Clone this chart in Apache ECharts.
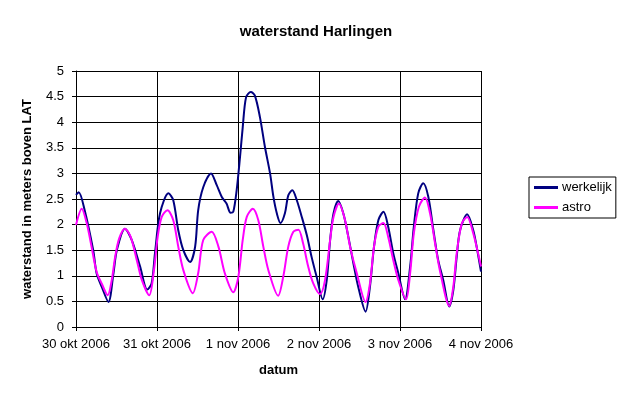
<!DOCTYPE html>
<html>
<head>
<meta charset="utf-8">
<script src="https://cdn.jsdelivr.net/npm/echarts@6/dist/echarts.min.js"></script>
<style>
  html, body { margin: 0; padding: 0; background: #fff; }
  #chart { width: 624px; height: 397px; }
</style>
</head>
<body>
<div id="chart"></div>
<script>
// hours since 30 okt 2006 00:00
let dayLabels = ['30 okt 2006', '31 okt 2006', '1 nov 2006', '2 nov 2006', '3 nov 2006', '4 nov 2006'];

let werkelijkHours = [0, 0.8, 2.5, 5.1, 6.1, 7.6, 9.6, 11.1, 12.1, 14.5, 16.5, 19.0, 21.1, 22.4, 23.4, 24.9,
    27.4, 28.8, 30.3, 31.8, 33.8, 35.3, 36.2, 37.7, 40.0, 41.7, 43.2, 44.6, 45.8, 46.6, 47.6, 48.6,
    49.4, 50.4, 51.8, 53.0, 54.5, 56.0, 57.5, 58.5, 59.5, 60.6, 61.9, 62.9, 64.1, 65.4, 66.9, 68.4,
    69.8, 71.3, 73.1, 74.3, 75.3, 76.3, 77.7, 79.2, 80.7, 82.2, 83.6, 85.8, 87.1, 88.3, 89.6, 91.1,
    92.5, 94.0, 95.5, 97.5, 99.0, 100.1, 101.4, 102.9, 104.4, 105.9, 107.3, 108.8, 110.6, 111.8,
    112.8, 113.8, 115.9, 117.7, 118.9, 120];
let werkelijkValues = [2.58, 2.63, 2.30, 1.50, 1.05, 0.79, 0.49, 1.05, 1.50, 1.92, 1.70, 1.18, 0.73, 0.85, 1.44, 2.22,
    2.61, 2.48, 1.89, 1.50, 1.27, 1.57, 2.28, 2.73, 3.00, 2.77, 2.54, 2.41, 2.23, 2.25, 2.67, 3.32,
    3.90, 4.49, 4.59, 4.52, 4.10, 3.51, 3.00, 2.54, 2.22, 2.03, 2.22, 2.57, 2.67, 2.48, 2.15, 1.79,
    1.37, 0.98, 0.54, 0.92, 1.70, 2.22, 2.46, 2.22, 1.76, 1.24, 0.79, 0.30, 0.79, 1.57, 2.09, 2.25,
    1.96, 1.44, 1.05, 0.54, 1.18, 1.96, 2.61, 2.81, 2.54, 1.89, 1.31, 0.92, 0.40, 0.72,
    1.37, 1.89, 2.20, 1.89, 1.50, 1.08];

let astroHours = [0, 1.7, 3.2, 4.6, 6.1, 7.6, 9.4, 10.6, 11.6, 12.8, 14.5, 16.2, 18.0, 19.5, 21.7, 23.1,
    24.2, 25.4, 27.1, 28.8, 30.3, 31.8, 34.6, 36.2, 37.7, 40.2, 42.2, 44.1, 46.6, 48.1, 49.4, 50.6,
    52.4, 54.0, 55.5, 57.0, 59.9, 61.4, 62.9, 64.4, 65.9, 67.3, 68.8, 70.3, 72.3, 73.8, 75.3, 76.3,
    77.9, 79.7, 81.2, 83.2, 85.8, 87.1, 88.3, 89.6, 91.1, 92.5, 94.0, 95.5, 97.8, 99.0, 100.1, 101.6,
    103.4, 104.9, 106.4, 107.8, 110.6, 111.8, 112.8, 114.3, 115.9, 117.7, 120];
let astroValues = [1.99, 2.31, 2.02, 1.57, 1.08, 0.85, 0.62, 0.92, 1.37, 1.73, 1.92, 1.76, 1.31, 0.92, 0.62, 1.11,
    1.76, 2.15, 2.28, 2.09, 1.57, 1.11, 0.66, 1.05, 1.70, 1.86, 1.57, 1.05, 0.68, 0.98, 1.70, 2.15,
    2.31, 2.09, 1.57, 1.11, 0.61, 0.98, 1.57, 1.86, 1.90, 1.63, 1.18, 0.85, 0.64, 0.92, 1.70, 2.15,
    2.41, 2.09, 1.57, 1.05, 0.49, 0.85, 1.57, 1.96, 2.03, 1.76, 1.31, 0.92, 0.54, 1.05, 1.83, 2.35,
    2.53, 2.22, 1.63, 1.11, 0.41, 0.79, 1.44, 2.02, 2.15, 1.83, 1.18];

let pairs = (xs, ys) => xs.map((x, i) => [x, ys[i]]);

let font = 'Liberation Sans, Arial, sans-serif';

let option = {
    animation: false,
    backgroundColor: '#fff',
    title: {
        text: 'waterstand Harlingen',
        left: 311,
        top: 19,
        textAlign: 'center',
        textStyle: { fontFamily: font, fontSize: 15, fontWeight: 'bold', color: '#000' }
    },
    grid: { left: 76, right: 143, top: 71, bottom: 70 },
    legend: {
        orient: 'vertical',
        left: 529,
        top: 177,
        padding: [4, 4, 4, 5],
        itemGap: 7,
        itemWidth: 24,
        itemHeight: 3,
        icon: 'rect',
        borderColor: '#000',
        borderWidth: 1,
        textStyle: { fontFamily: font, fontSize: 13, color: '#000', padding: [0, 0, 0, -1] },
        data: ['werkelijk', 'astro']
    },
    xAxis: {
        type: 'value',
        min: 0,
        max: 120,
        interval: 24,
        name: 'datum',
        nameLocation: 'middle',
        nameGap: 37,
        nameTextStyle: { fontFamily: font, fontSize: 13, fontWeight: 'bold', color: '#000' },
        axisLine: { lineStyle: { color: '#000', width: 1 } },
        axisTick: { show: true, length: 4, lineStyle: { color: '#000' } },
        axisLabel: {
            margin: 11,
            fontFamily: font,
            fontSize: 13,
            color: '#000',
            formatter: v => dayLabels[Math.round(v / 24)]
        },
        splitLine: { show: true, lineStyle: { color: '#000', width: 1 } }
    },
    yAxis: {
        type: 'value',
        min: 0,
        max: 5,
        interval: 0.5,
        name: 'waterstand in meters boven LAT',
        nameLocation: 'middle',
        nameGap: 42,
        nameTextStyle: { fontFamily: font, fontSize: 13, fontWeight: 'bold', color: '#000' },
        axisLine: { show: true, lineStyle: { color: '#000', width: 1 } },
        axisTick: { show: true, length: 4, lineStyle: { color: '#000' } },
        axisLabel: { margin: 12, fontFamily: font, fontSize: 13, color: '#000' },
        splitLine: { show: true, lineStyle: { color: '#000', width: 1 } }
    },
    series: [{
        name: 'werkelijk',
        type: 'line',
        smooth: 0.3,
        showSymbol: false,
        color: '#000080',
        lineStyle: { width: 2, color: '#000080' },
        data: pairs(werkelijkHours, werkelijkValues)
    }, {
        name: 'astro',
        type: 'line',
        smooth: 0.3,
        showSymbol: false,
        color: '#FF00FF',
        lineStyle: { width: 2, color: '#FF00FF' },
        data: pairs(astroHours, astroValues)
    }]
};

echarts.init(document.getElementById('chart')).setOption(option);
</script>
</body>
</html>
